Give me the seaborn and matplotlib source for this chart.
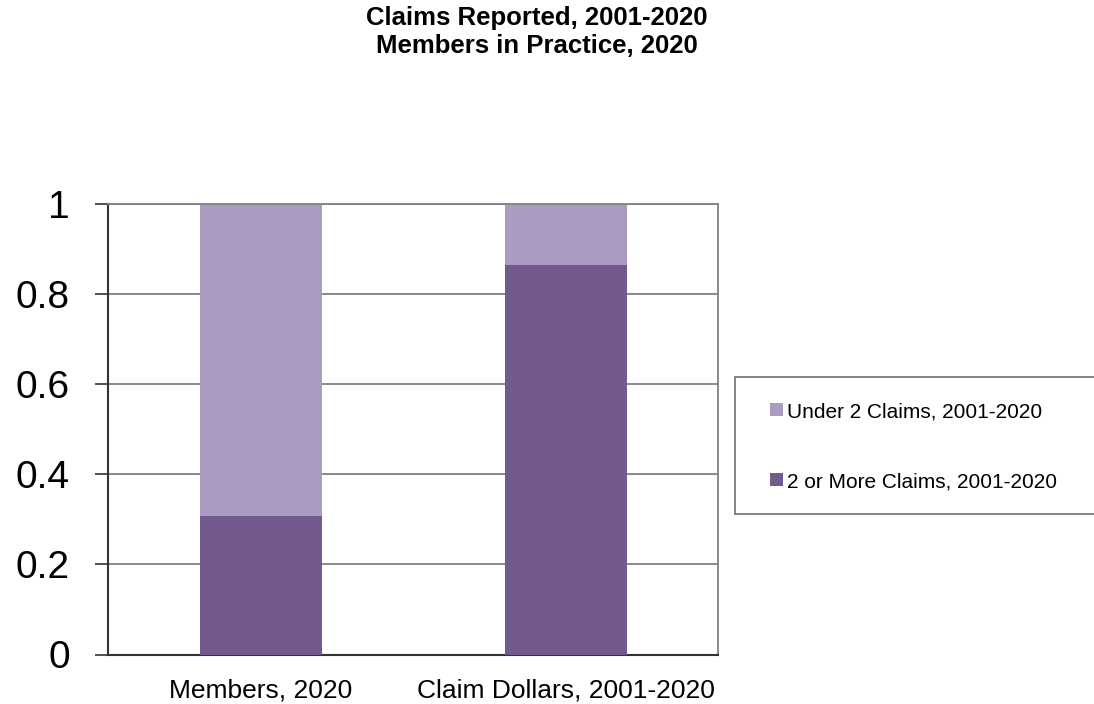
import pandas as pd
import seaborn as sns
import matplotlib.pyplot as plt
from matplotlib.patches import Patch, Rectangle

# Data
categories = ['Members, 2020', 'Claim Dollars, 2001-2020']
two_or_more = [0.308, 0.865]
under_two = [0.692, 0.135]
series_names = ['Under 2 Claims, 2001-2020', '2 or More Claims, 2001-2020']

light = '#AA9BC0'
dark = '#725A8E'

df = pd.DataFrame({'category': categories, 'two_or_more': two_or_more, 'under_two': under_two})
df['total'] = df['two_or_more'] + df['under_two']

sns.set_style('white')
plt.rcParams['font.family'] = ['Liberation Sans', 'DejaVu Sans']
plt.rcParams['text.color'] = 'black'

W, H = 1094, 704
fig = plt.figure(figsize=(W / 100, H / 100), dpi=100)
ax = fig.add_axes([108 / W, 1 - 654.5 / H, 610 / W, 450.5 / H])

# stacked bars: draw the total in light colour, dark part over it
sns.barplot(data=df, x='category', y='total', color=light, width=0.4, saturation=1,
            linewidth=0, edgecolor='none', ax=ax, zorder=2)
sns.barplot(data=df, x='category', y='two_or_more', color=dark, width=0.4, saturation=1,
            linewidth=0, edgecolor='none', ax=ax, zorder=3)

ax.set_xlim(-0.5, 1.5)
ax.set_ylim(0, 1)
ax.set_yticks([0, 0.2, 0.4, 0.6, 0.8, 1])
ax.set_yticklabels(['0', '0.2', '0.4', '0.6', '0.8', '1'], fontsize=28, color='black')
ax.set_xlabel('')
ax.set_ylabel('')
ax.yaxis.grid(True, color='#808080', linewidth=1.3, zorder=1)
ax.set_axisbelow(True)

ax.tick_params(axis='x', which='major', length=0, labelsize=19, pad=17, labelcolor='black')
ax.set_xticks([-0.5, 0.5, 1.5], minor=True)
ax.tick_params(axis='x', which='minor', length=8, width=1, color='#333333', direction='out')
ax.tick_params(axis='y', length=9.5, width=1.2, color='#333333', direction='out', left=True, pad=18)

for s in ['left', 'bottom']:
    ax.spines[s].set_color('#333333')
    ax.spines[s].set_linewidth(1.5)
for s in ['right', 'top']:
    ax.spines[s].set_color('#808080')
    ax.spines[s].set_linewidth(1.3)

fig.text(537 / W, 1 - 6 / H, 'Claims Reported, 2001-2020\nMembers in Practice, 2020',
         ha='center', va='top', fontsize=18.5, fontweight='bold', linespacing=1.2, color='black')

# legend frame, running off the right edge as in the original
fig.patches.append(Rectangle((735 / W, 1 - 514 / H), 400 / W, 137 / H, transform=fig.transFigure,
                             facecolor='white', edgecolor='#707070', linewidth=1.2, zorder=0))

handles = [Patch(facecolor=light, edgecolor='none'), Patch(facecolor=dark, edgecolor='none')]
leg = fig.legend(handles, series_names, loc='upper left',
                 bbox_to_anchor=(770 / W, 1 - 402 / H), frameon=False,
                 fontsize=15, handlelength=0.6, handleheight=0.6, handletextpad=0.2,
                 labelspacing=2.45, borderpad=0, borderaxespad=0)
for t in leg.get_texts():
    t.set_color('black')

fig.savefig('out.png', dpi=100)
